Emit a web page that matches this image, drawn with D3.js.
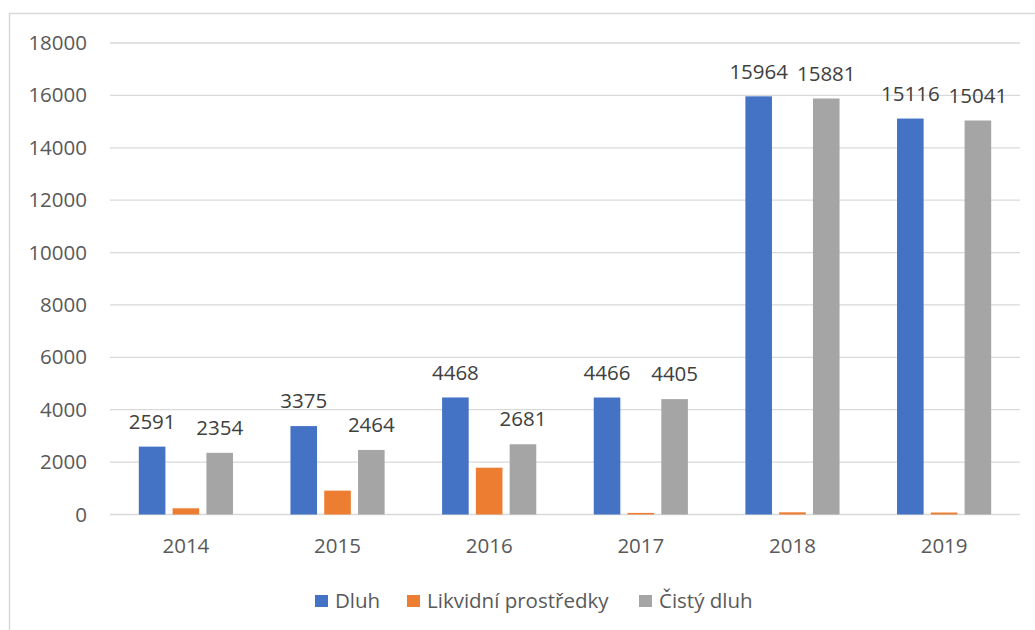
<!DOCTYPE html>
<html>
<head>
<meta charset="utf-8">
<script src="https://cdn.jsdelivr.net/npm/d3@7"></script>
<style>
  body { margin: 0; background: #fff; }
  text { font-family: "Open Sans", sans-serif; }
</style>
</head>
<body>
<svg class="chart" id="chart"></svg>
<script>
var years = ["2014", "2015", "2016", "2017", "2018", "2019"];
var seriesNames = ["Dluh", "Likvidní prostředky", "Čistý dluh"];
var dluh = [2591, 3375, 4468, 4466, 15964, 15116];
var likvidni = [237, 911, 1787, 61, 83, 75];
var cistyDluh = [2354, 2464, 2681, 4405, 15881, 15041];
var colors = ["#4472c4", "#ed7d31", "#a5a5a5"];
var yTicks = [0, 2000, 4000, 6000, 8000, 10000, 12000, 14000, 16000, 18000];
var labelled = [true, false, true];

function drawChart() {
    var values = [dluh, likvidni, cistyDluh];

    var data = years.map(function(yr, i) {
        return {
            year: yr,
            bars: seriesNames.map(function(s, j) {
                return { series: j, value: values[j][i] };
            })
        };
    });

    var width = 1035, height = 630;
    var margin = { top: 43, right: 15, bottom: 115.5, left: 110 };

    var chart = d3.select(".chart#chart")
        .attr("width", width)
        .attr("height", height);

    // outer frame, only the left and top edges are visible
    chart.append("rect")
        .attr("x", 9.5)
        .attr("y", 13.5)
        .attr("width", 1200)
        .attr("height", 1000)
        .style("fill", "none")
        .style("stroke", "#d9d9d9")
        .style("stroke-width", 1.5);

    var x0 = d3.scaleBand()
        .domain(years)
        .range([margin.left, width - margin.right])
        .paddingInner(0.379)
        .paddingOuter(0.19);

    var x1 = d3.scaleBand()
        .domain([0, 1, 2])
        .range([0, x0.bandwidth()])
        .paddingInner(0.213)
        .paddingOuter(0);

    var y = d3.scaleLinear()
        .domain([0, 18000])
        .range([height - margin.bottom, margin.top]);

    // gridlines
    chart.append("g")
        .selectAll("line")
        .data(yTicks)
        .enter().append("line")
        .attr("x1", margin.left)
        .attr("x2", width - margin.right)
        .attr("y1", function(d) { return y(d); })
        .attr("y2", function(d) { return y(d); })
        .style("stroke", "#d9d9d9")
        .style("stroke-width", 1.3);

    var yAxis = d3.axisLeft(y)
        .tickValues(yTicks)
        .tickSize(0)
        .tickPadding(0)
        .tickFormat(function(d) { return d; });

    var gy = chart.append("g")
        .attr("transform", "translate(87,0)")
        .call(yAxis);
    gy.select(".domain").remove();
    gy.selectAll("text")
        .style("font-family", "'Open Sans', sans-serif")
        .style("font-size", "20.5px")
        .style("fill", "#595959");

    var groups = chart.selectAll(".year")
        .data(data)
        .enter().append("g")
        .attr("class", "year")
        .attr("transform", function(d) { return "translate(" + x0(d.year) + ",0)"; });

    groups.selectAll(".bar")
        .data(function(d) { return d.bars; })
        .enter().append("rect")
        .attr("class", "bar")
        .attr("x", function(d) { return x1(d.series); })
        .attr("y", function(d) { return y(d.value); })
        .attr("width", x1.bandwidth())
        .attr("height", function(d) { return y(0) - y(d.value); })
        .style("fill", function(d) { return colors[d.series]; });

    groups.selectAll(".lbl")
        .data(function(d) { return d.bars.filter(function(b) { return labelled[b.series]; }); })
        .enter().append("text")
        .attr("class", "lbl")
        .attr("x", function(d) { return x1(d.series) + x1.bandwidth() / 2; })
        .attr("y", function(d) { return y(d.value) - 25; })
        .attr("dy", "0.35em")
        .style("text-anchor", "middle")
        .style("font-size", "20.5px")
        .style("fill", "#404040")
        .text(function(d) { return d.value; });

    var xAxis = d3.axisBottom(x0)
        .tickSize(0)
        .tickPadding(0);

    var gx = chart.append("g")
        .attr("transform", "translate(0," + y(0) + ")")
        .call(xAxis);
    gx.select(".domain").remove();
    gx.selectAll("text")
        .attr("y", 38)
        .attr("dy", 0)
        .style("font-family", "'Open Sans', sans-serif")
        .style("font-size", "20.5px")
        .style("fill", "#595959");

    // legend
    var legendX = [315, 407, 639];
    var legend = chart.selectAll(".legend")
        .data(seriesNames)
        .enter().append("g")
        .attr("class", "legend")
        .attr("transform", function(d, i) { return "translate(" + legendX[i] + ",601)"; });

    legend.append("rect")
        .attr("x", 0)
        .attr("y", -6)
        .attr("width", 13)
        .attr("height", 12)
        .style("fill", function(d, i) { return colors[i]; });

    legend.append("text")
        .attr("x", 20)
        .attr("y", 0)
        .attr("dy", "0.35em")
        .style("font-size", "20.5px")
        .style("fill", "#595959")
        .text(function(d) { return d; });
}

drawChart()
</script>
</body>
</html>
